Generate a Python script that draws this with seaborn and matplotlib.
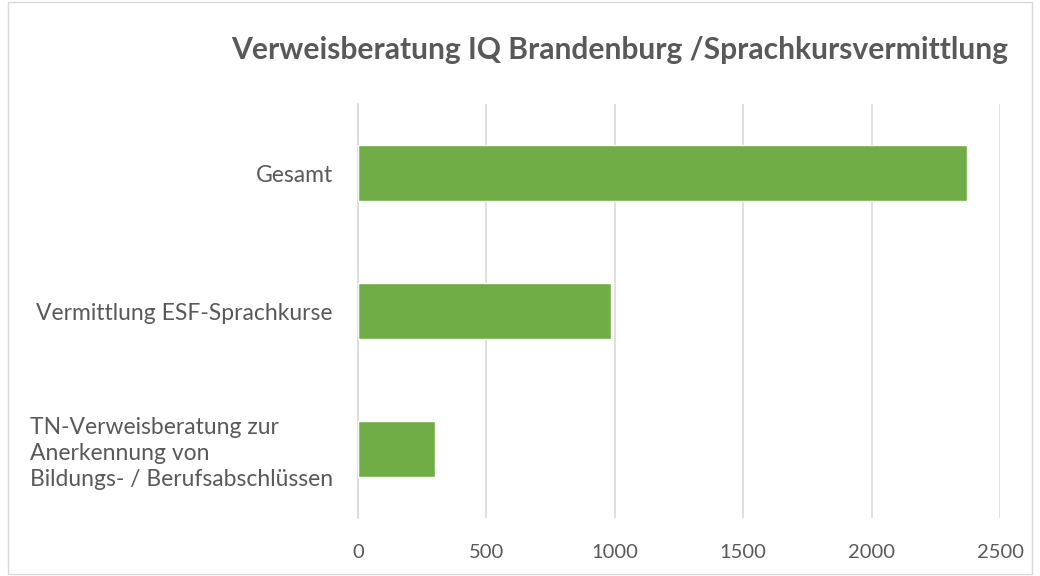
import pandas as pd
import seaborn as sns
import matplotlib.pyplot as plt
from matplotlib.patches import Rectangle

# data
categories = ["Gesamt", "Vermittlung ESF-Sprachkurse",
              "TN-Verweisberatung zur\nAnerkennung von\nBildungs- / Berufsabschlüssen"]
values = [2370, 985, 298]
x_ticks = [0, 500, 1000, 1500, 2000, 2500]

df = pd.DataFrame({"kategorie": categories, "wert": values})

sns.set_style("white")
plt.rcParams['font.family'] = ['Lato', 'DejaVu Sans']

fig = plt.figure(figsize=(10.4, 5.76), dpi=100)
ax = fig.add_axes([358 / 1040, 58 / 576, 642 / 1040, 414 / 576])

sns.barplot(data=df, x="wert", y="kategorie", orient="h", color="#70AD47",
            width=0.4, saturation=1, ax=ax, zorder=3)

ax.set_xlim(0, 2500)
ax.set_ylim(2.5, -0.5)
ax.set_xticks(x_ticks)
ax.set_xlabel("")
ax.set_ylabel("")
ax.grid(axis="x", color="#D9D9D9", linewidth=1.2, zorder=0)

for s in ["top", "right", "bottom"]:
    ax.spines[s].set_visible(False)
ax.spines["left"].set_color("#D9D9D9")
ax.spines["left"].set_linewidth(1.2)

ax.tick_params(axis="x", length=0, pad=19, labelsize=14.5, labelcolor="#595959")
ax.tick_params(axis="y", which="major", length=0, pad=18, labelsize=16.5, labelcolor="#595959")
ax.set_yticks([-0.5, 0.5, 1.5, 2.5], minor=True)
ax.tick_params(axis="y", which="minor", length=5, color="#D9D9D9", width=1.2)
for lbl in ax.get_yticklabels():
    lbl.set_multialignment("left")
    lbl.set_linespacing(1.3)

fig.text(620 / 1040, 1 - 50 / 576, "Verweisberatung IQ Brandenburg /Sprachkursvermittlung",
         ha="center", va="center", fontsize=21.6, fontweight="bold", color="#595959")

# light chart border
fig.patches.append(Rectangle((8 / 1040, 2 / 576), 1024 / 1040, 572 / 576,
                             transform=fig.transFigure, fill=False,
                             edgecolor="#D9D9D9", linewidth=1))

fig.savefig("out.png", dpi=100)
